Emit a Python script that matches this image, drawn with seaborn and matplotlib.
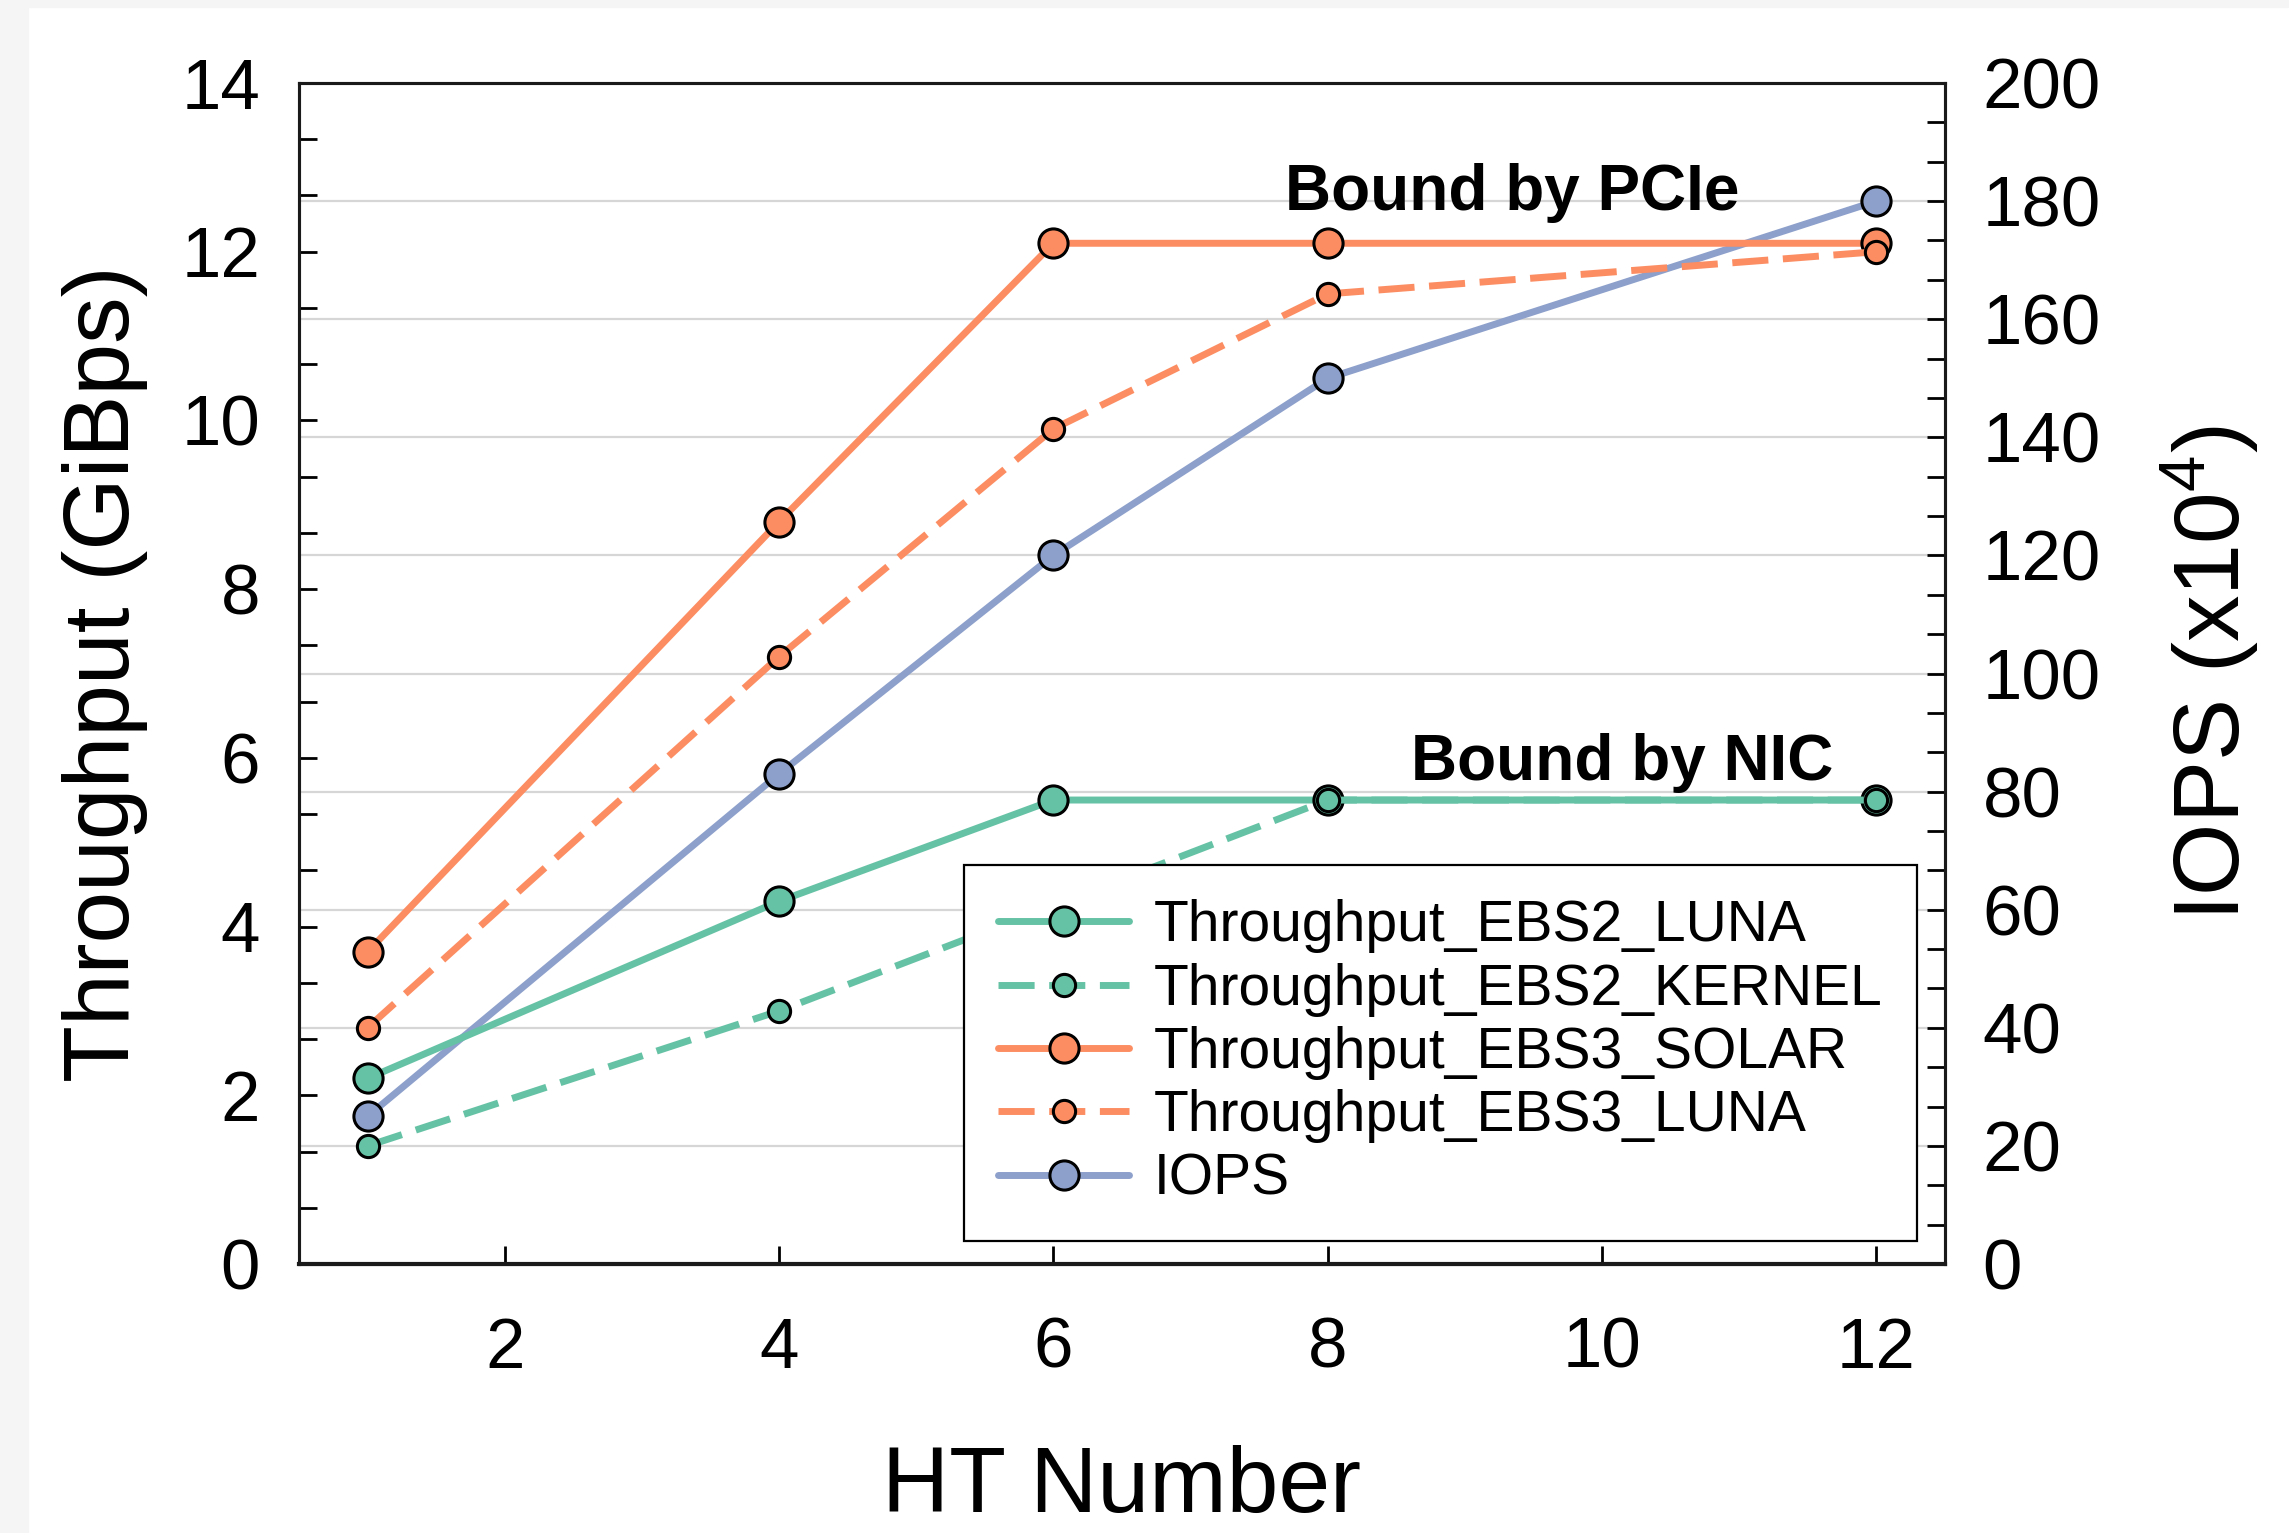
import matplotlib
matplotlib.use("Agg")
import matplotlib.pyplot as plt
import seaborn as sns
from matplotlib.ticker import AutoMinorLocator
from matplotlib.patches import Rectangle

# ---------------- data ----------------
ht_number = [1, 4, 6, 8, 12]
tp_ebs2_luna = [2.2, 4.3, 5.5, 5.5, 5.5]
tp_ebs2_kernel = [1.4, 3.0, 4.25, 5.5, 5.5]
tp_ebs3_solar = [3.7, 8.8, 12.1, 12.1, 12.1]
tp_ebs3_luna = [2.8, 7.2, 9.9, 11.5, 12.0]
iops = [25, 83, 120, 150, 180]

series_names = ["Throughput_EBS2_LUNA", "Throughput_EBS2_KERNEL",
                "Throughput_EBS3_SOLAR", "Throughput_EBS3_LUNA", "IOPS"]
x_ticks = [2, 4, 6, 8, 10, 12]
left_ticks = [0, 2, 4, 6, 8, 10, 12, 14]
right_ticks = [0, 20, 40, 60, 80, 100, 120, 140, 160, 180, 200]

# ---------------- style ----------------
sns.set_theme(style="white")
plt.rcParams["font.family"] = ["Liberation Sans", "DejaVu Sans"]
plt.rcParams.update({
    "mathtext.fontset": "custom",
    "mathtext.rm": "Liberation Sans",
    "mathtext.it": "Liberation Sans:italic",
    "mathtext.bf": "Liberation Sans:bold",
    "text.color": "black",
    "axes.labelcolor": "black",
    "xtick.color": "black",
    "ytick.color": "black",
    "axes.edgecolor": "#1a1a1a",
})

pal = sns.color_palette("Set2")
green, orange, blue = pal[0], pal[1], pal[2]

W, H = 2289, 1533
fig = plt.figure(figsize=(W / 100, H / 100), dpi=100)
fig.patch.set_facecolor("white")
fig.patches.append(Rectangle((0, 0), 28 / W, 1, transform=fig.transFigure,
                             color="#f5f5f5", zorder=-10))
fig.patches.append(Rectangle((0, 1 - 7 / H), 1, 7 / H, transform=fig.transFigure,
                             color="#f5f5f5", zorder=-10))

ax = fig.add_axes([299 / W, (H - 1264) / H, 1646 / W, 1181 / H])
ax2 = ax.twinx()
ax.set_zorder(2)
ax2.set_zorder(1)
ax.patch.set_visible(False)

LW = 5.0
MEW = 2.2
MS_SOLID = 21
MS_DASH = 16
DASH = (0, (5.2, 2.1))


def draw(axis, yvals, color, name, dashed):
    kw = dict(color=color, linewidth=LW, marker="o",
              markersize=MS_DASH if dashed else MS_SOLID,
              markeredgecolor="black", markeredgewidth=MEW,
              label=name, errorbar=None, legend=False)
    if dashed:
        kw["linestyle"] = DASH
    sns.lineplot(x=ht_number, y=yvals, ax=axis, **kw)


draw(ax, tp_ebs2_luna, green, series_names[0], False)
draw(ax, tp_ebs2_kernel, green, series_names[1], True)
draw(ax, tp_ebs3_solar, orange, series_names[2], False)
draw(ax, tp_ebs3_luna, orange, series_names[3], True)
draw(ax2, iops, blue, series_names[4], False)

# ---------------- axes ----------------
ax.set_xlim(0.5, 12.5)
ax.set_ylim(0, 14)
ax2.set_ylim(0, 200)
ax.set_xticks(x_ticks)
ax.set_yticks(left_ticks)
ax.yaxis.set_minor_locator(AutoMinorLocator(3))
ax2.set_yticks(right_ticks)
ax2.yaxis.set_minor_locator(AutoMinorLocator(3))

tick_kw = dict(direction="in", length=13, width=2, labelsize=51)
ax.tick_params(axis="y", which="both", left=True, right=False, pad=28, **tick_kw)
ax.tick_params(axis="x", which="both", bottom=True, top=False, pad=38, **tick_kw)
ax2.tick_params(axis="y", which="both", right=True, left=False, pad=27, **tick_kw)
ax2.tick_params(axis="x", which="both", bottom=False, top=False)

ax.grid(False)
ax2.grid(False)
ax2.yaxis.grid(True, which="major", color="#d6d6d6", lw=1.6)

for a in (ax, ax2):
    for s in a.spines.values():
        s.set_linewidth(2.2)
        s.set_color("#1a1a1a")
ax.spines["bottom"].set_linewidth(3.0)

ax.set_xlabel("HT Number", fontsize=67)
ax.xaxis.set_label_coords(0.5, -0.153)
ax.set_ylabel("Throughput (GiBps)", fontsize=67)
ax.yaxis.set_label_coords(-0.0917, 0.5)
ax2.set_ylabel("IOPS (x10$^4$)", fontsize=67)
ax2.yaxis.set_label_coords(1.130, 0.5)

# annotations
ax.text(7.69, 12.49, "Bound by PCIe", fontsize=46, fontweight="bold",
        ha="left", va="baseline")
ax.text(8.61, 5.74, "Bound by NIC", fontsize=46, fontweight="bold",
        ha="left", va="baseline")

# legend
h1, l1 = ax.get_legend_handles_labels()
h2, l2 = ax2.get_legend_handles_labels()
leg = ax.legend(h1 + h2, l1 + l2, loc="upper left",
                bbox_to_anchor=((964 - 299) / 1646, (1264 - 865) / 1181),
                borderaxespad=0, fontsize=41, handlelength=2.3,
                handletextpad=0.43, borderpad=0.6, labelspacing=0.165,
                frameon=True, fancybox=False, edgecolor="black", framealpha=1)
leg.get_frame().set_linewidth(1.6)
leg.set_zorder(10)

fig.savefig("out.png", dpi=100)
